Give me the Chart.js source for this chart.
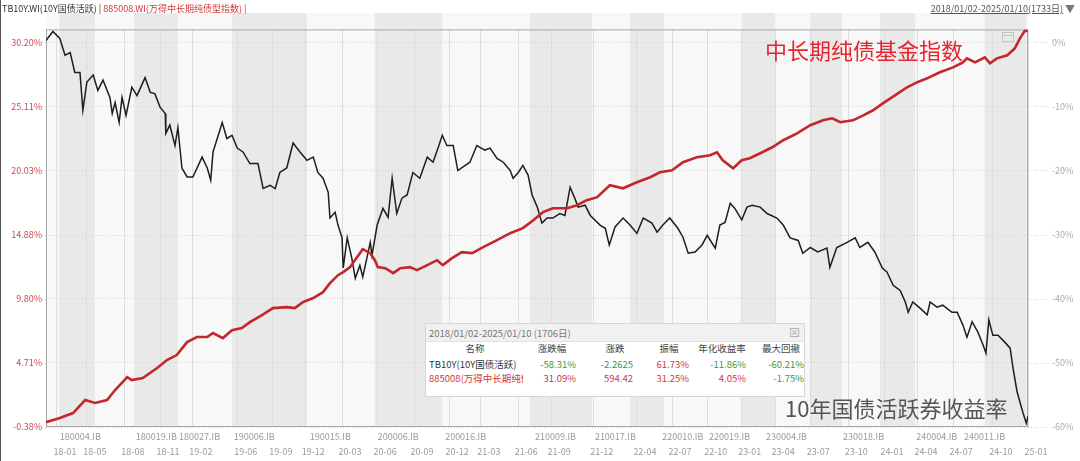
<!DOCTYPE html>
<html><head><meta charset="utf-8">
<script src="https://cdn.jsdelivr.net/npm/chart.js@4.4.1/dist/chart.umd.min.js"></script>
<style>
body{margin:0;background:#fff;}
#wrap{position:relative;width:1080px;height:461px;overflow:hidden;font-family:"Noto Sans CJK SC","Noto Sans",sans-serif;}
#c{position:absolute;left:0;top:0;}
.abs{position:absolute;white-space:nowrap;}
.hdr{font-size:9px;line-height:12px;top:3px;}
#tbl{position:absolute;left:425px;top:323px;width:380px;height:74px;background:#fff;border:1px solid #d6d6d6;box-sizing:border-box;overflow:hidden;font-size:9.5px;line-height:12px;}
#tbl .ttl{position:absolute;left:0;top:0;width:100%;height:17px;background:#f1f1f1;border-bottom:1px solid #e2e2e2;color:#777;}
.note{font-size:22px;line-height:24px;}
</style></head>
<body><div id="wrap">
<canvas id="c" width="1080" height="461"></canvas>
<div class="abs hdr" style="left:2px;color:#333">TB10Y.WI(10Y国债活跃) | <span style="color:#d03a3a">885008.WI(万得中长期纯债型指数) |</span></div>
<div class="abs hdr" style="right:17px;color:#555;text-decoration:underline">2018/01/02-2025/01/10(1733日)</div>
<div class="abs hdr" style="left:1065px;color:#777;font-size:10px">▼</div>
<div id="tbl"><div class="ttl"></div></div>
<div class="abs note" style="left:765px;top:37px;color:#e5262c">中长期纯债基金指数</div>
<div class="abs note" style="left:785px;top:395px;color:#555">10年国债活跃券收益率</div>
</div>
<script>
// ---- data (x = trading-day index from 2018/01/02) ----
const tbDays = [0,12,24,33,42,50,59,64,71,82,90,99,111,115,120,127,132,139,149,158,172,181,189,198,207,208,215,224,229,236,245,255,271,280,286,290,306,314,323,332,342,354,368,377,389,398,406,418,429,441,453,464,472,481,490,493,502,507,514,516,523,531,537,545,550,557,563,566,575,585,594,601,609,618,627,637,649,662,672,681,688,696,707,715,728,736,748,762,771,783,794,806,811,820,828,837,844,853,861,870,880,892,901,910,918,924,936,945,962,971,978,988,1002,1014,1026,1037,1052,1061,1071,1083,1097,1106,1115,1127,1139,1148,1162,1170,1179,1188,1196,1208,1217,1226,1240,1252,1269,1280,1292,1306,1314,1327,1340,1356,1361,1373,1391,1405,1413,1427,1439,1452,1460,1471,1483,1492,1497,1505,1518,1530,1535,1547,1557,1573,1582,1592,1599,1608,1618,1627,1632,1637,1644,1653,1665,1674,1679,1686,1691,1696,1702,1705];
const tbValues = [0.3,1.7,0.6,-2.0,-1.6,-4.7,-4.7,-10.6,-6.2,-5.1,-7.5,-5.9,-8.6,-11.1,-9.4,-12.5,-8.6,-11.4,-7.0,-8.3,-5.5,-7.8,-8.0,-10.1,-11.1,-14.2,-12.9,-16.1,-13.3,-19.6,-21.0,-21.0,-17.9,-19.6,-21.5,-17.1,-12.5,-15.0,-14.5,-16.5,-17.1,-18.9,-18.9,-22.8,-22.3,-22.8,-20.3,-19.6,-15.7,-17.1,-18.4,-17.9,-20.3,-21.2,-23.4,-27.4,-26.5,-28.5,-30.5,-35.2,-30.5,-33.7,-36.8,-34.8,-36.6,-33.7,-31.2,-33.2,-28.5,-25.9,-27.3,-21.2,-26.7,-24.3,-23.8,-20.3,-21.2,-17.9,-18.7,-16.4,-14.5,-16.1,-16.1,-20.0,-19.2,-18.7,-16.1,-16.8,-16.5,-18.1,-18.7,-20.0,-21.2,-20.3,-19.2,-20.7,-23.8,-25.7,-28.2,-27.4,-27.4,-26.7,-27.0,-22.6,-24.3,-25.7,-25.4,-27.0,-28.5,-29.0,-31.6,-28.8,-27.4,-28.5,-29.8,-27.4,-28.2,-29.6,-28.5,-27.4,-29.0,-30.4,-32.9,-32.7,-31.6,-30.1,-32.1,-28.5,-28.1,-25.1,-25.9,-27.7,-25.7,-25.4,-25.7,-26.7,-27.4,-28.5,-30.5,-30.9,-32.9,-32.0,-32.7,-32.1,-35.1,-32.0,-31.2,-30.5,-32.0,-31.2,-32.7,-35.2,-35.8,-37.9,-38.7,-40.5,-42.1,-40.5,-41.5,-42.5,-40.5,-41.3,-41.0,-42.1,-42.1,-44.1,-46.0,-43.6,-45.2,-47.2,-48.5,-43.3,-45.7,-45.7,-46.8,-47.7,-50.8,-54.5,-56.1,-57.7,-59.4,-58.3];
const fundDays = [0,24,47,68,85,106,120,141,149,168,193,210,227,245,262,280,290,307,323,340,354,375,394,418,432,446,464,481,493,507,516,528,540,550,563,571,576,589,603,615,632,644,662,679,689,705,722,740,759,783,806,828,846,863,880,905,922,939,957,979,1002,1026,1049,1066,1087,1106,1130,1153,1165,1175,1193,1208,1222,1240,1261,1280,1304,1327,1349,1365,1379,1401,1419,1436,1453,1474,1495,1512,1530,1552,1575,1592,1599,1613,1630,1639,1651,1669,1682,1691,1700,1705];
const fundValues = [0,0.33,0.73,1.76,1.53,1.76,2.56,3.59,3.35,3.51,4.31,4.94,5.34,6.37,6.77,6.77,7.09,6.69,7.32,7.48,7.96,8.52,9.07,9.15,9.07,9.55,9.87,10.34,11.06,11.69,11.93,12.33,13.12,13.76,13.44,12.88,12.33,12.25,11.85,12.25,12.33,12.09,12.49,12.88,12.49,13.04,13.52,13.44,13.92,14.47,15.03,15.43,16.06,16.70,17.01,17.01,17.25,17.65,17.89,18.84,18.60,19.08,19.48,19.87,20.03,20.67,21.07,21.22,21.46,20.83,20.19,20.83,20.99,21.38,21.86,22.42,22.97,23.61,24.00,24.16,23.85,24.00,24.40,24.80,25.35,25.99,26.63,27.02,27.34,27.82,28.21,28.61,28.93,28.61,29.01,28.53,28.93,29.17,29.72,30.52,31.15,31.09];
const leftTickValues = [-0.38,4.71,9.80,14.88,20.03,25.11,30.20];
const leftTickLabels = ['-0.38%','4.71%','9.80%','14.88%','20.03%','25.11%','30.20%'];
const rightTickValues = [-60,-50,-40,-30,-20,-10,0];
const rightTickLabels = ['-60%','-50%','-40%','-30%','-20%','-10%','0%'];
const monthLabels = ['18-01','18-05','18-08','18-11','19-02','19-06','19-09','19-12','20-03','20-06','20-09','20-12','21-03','21-06','21-09','21-12','22-04','22-07','22-10','23-01','23-04','23-07','23-10','24-01','24-04','24-07','24-10','25-01'];
const monthDays = [19,71,137,198,255,333,394,450,514,575,639,700,755,820,877,951,1026,1087,1149,1208,1266,1327,1393,1455,1514,1575,1644,1705];
const bondLabels = ['180004.IB','180019.IB','180027.IB','190006.IB','190015.IB','200006.IB','200016.IB','210009.IB','210017.IB','220010.IB','220019.IB','230004.IB','230018.IB','240004.IB','240011.IB'];
const bondDays = [24,156,231,326,458,576,693,849,953,1070,1151,1250,1384,1511,1594];
const bandStartDays = [23,153,323,571,840,1014,1208,1327,1448,1630];
const bandEndDays = [85,229,453,688,948,1073,1266,1382,1509,1702];
const tableTitle = '2018/01/02-2025/01/10 (1706日)';
const tableHeaders = ['名称','涨跌幅','涨跌','振幅','年化收益率','最大回撤'];
const tableNames = ['TB10Y(10Y国债活跃)','885008(万得中长期纯债型指数)'];
const tableValues = [['-58.31%','-2.2625','61.73%','-11.86%','-60.21%'],['31.09%','594.42','31.25%','4.05%','-1.75%']];

// ---- table overlay ----
(function(){
  const t = document.getElementById('tbl');
  t.querySelector('.ttl').innerHTML = '<span style="position:absolute;left:3px;top:3px">'+tableTitle+'</span><span style="position:absolute;right:4px;top:2px;color:#aaa;font-size:11px">⊠</span>';
  const hdrCenters = [49,126,189,243,296,355];
  const colRights = [150,207,263,320,378];
  const rowTops = [18,34,48];
  const green = '#3a9a3a', red = '#d2353c';
  tableHeaders.forEach((h,i)=>{
    const s=document.createElement('span'); s.className='abs'; s.textContent=h;
    s.style.cssText+='top:'+rowTops[0]+'px;left:'+(hdrCenters[i]-40)+'px;width:80px;text-align:center;color:#444';
    t.appendChild(s);
  });
  tableNames.forEach((n,r)=>{
    const s=document.createElement('span'); s.className='abs'; s.textContent=n;
    s.style.cssText+='top:'+rowTops[r+1]+'px;left:3px;width:94px;overflow:hidden;color:'+(r===0?'#333':red);
    t.appendChild(s);
    tableValues[r].forEach((v,c)=>{
      const e=document.createElement('span'); e.className='abs'; e.textContent=v;
      const neg = v.charAt(0)==='-';
      e.style.cssText+='top:'+rowTops[r+1]+'px;left:'+(colRights[c]-70)+'px;width:70px;text-align:right;color:'+(neg?green:red);
      t.appendChild(e);
    });
  });
})();

// ---- chart ----
Chart.defaults.font.family = '"Noto Sans CJK SC","Noto Sans",sans-serif';
const decor = {
  id:'decor',
  beforeDraw(chart){
    const {ctx, chartArea:a, scales:{x}} = chart;
    ctx.save();
    ctx.fillStyle = '#f8f8f8';
    ctx.fillRect(a.left, 13, a.right-a.left, a.bottom-13);
    ctx.fillStyle = '#e9e9e9';
    bandStartDays.forEach((s,i)=>{
      const x0 = x.getPixelForValue(s), x1 = x.getPixelForValue(bandEndDays[i]);
      ctx.fillRect(x0, 13, x1-x0, a.bottom-13);
    });
    ctx.restore();
  },
  beforeDatasetsDraw(chart){
    const {ctx, chartArea:a, scales:{yL}} = chart;
    ctx.save();
    ctx.strokeStyle = '#d0d0d0'; ctx.setLineDash([1,2]); ctx.lineWidth = 1;
    leftTickValues.forEach(v=>{
      const y = Math.round(yL.getPixelForValue(v))+0.5;
      ctx.beginPath(); ctx.moveTo(a.left-4,y); ctx.lineTo(a.left,y); ctx.stroke();
      ctx.beginPath(); ctx.moveTo(a.right,y); ctx.lineTo(a.right+20,y); ctx.stroke();
    });
    ctx.setLineDash([]);
    ctx.strokeStyle = '#a8a8a8';
    ctx.strokeRect(a.left+0.5, a.top+0.5, a.right-a.left-1, a.bottom-a.top-1);
    ctx.strokeStyle = '#c4c4c4';
    ctx.strokeRect(1002.5, 32.5, 11, 9);
    ctx.beginPath(); ctx.moveTo(1002.5,35.5); ctx.lineTo(1013.5,35.5); ctx.stroke();
    ctx.restore();
  },
  afterDraw(chart){
    const ctx = chart.ctx;
    ctx.save(); ctx.fillStyle = '#555'; ctx.fillRect(0,0,1,461); ctx.restore();
  }
};

new Chart(document.getElementById('c'), {
  type:'line',
  data:{ datasets:[
    { label:'885008.WI', yAxisID:'yL', xAxisID:'x', data: fundDays.map((d,i)=>({x:d,y:fundValues[i]})),
      borderColor:'#c3262d', borderWidth:2.6, pointRadius:0, tension:0, order:0 },
    { label:'TB10Y.WI', yAxisID:'yR', xAxisID:'x', data: tbDays.map((d,i)=>({x:d,y:tbValues[i]})),
      borderColor:'#1e1e1e', borderWidth:1.5, pointRadius:0, tension:0, order:1 }
  ]},
  options:{
    responsive:false, devicePixelRatio:1, animation:false,
    layout:{ padding:{ top:29, left:0, right:0, bottom:0 } },
    plugins:{ legend:{display:false}, tooltip:{enabled:false} },
    scales:{
      x:{ type:'linear', position:'bottom', min:0, max:1705, bounds:'data', weight:1,
        afterBuildTicks(s){ s.ticks = monthDays.map(v=>({value:v})); },
        afterFit(s){ s.height = 19; },
        ticks:{ autoSkip:false, maxRotation:0, minRotation:0, labelOffset:8, padding:4, color:'#9a9a9a', font:{size:9},
          callback:(v,i)=>monthLabels[i] },
        grid:{ color:'#dddddd', drawTicks:false }, border:{ display:false } },
      xb:{ type:'linear', position:'bottom', min:0, max:1705, bounds:'data', weight:0,
        afterBuildTicks(s){ s.ticks = bondDays.map(v=>({value:v})); },
        afterFit(s){ s.height = 15; },
        ticks:{ autoSkip:false, maxRotation:0, minRotation:0, align:'start', padding:4, color:'#9a9a9a', font:{size:9},
          callback:(v,i)=>bondLabels[i] },
        grid:{ display:false, drawTicks:false }, border:{ display:false } },
      yL:{ type:'linear', position:'left', min:-0.38, max:31.23, bounds:'data',
        afterBuildTicks(s){ s.ticks = leftTickValues.map(v=>({value:v})); },
        afterFit(s){ s.width = 46; },
        ticks:{ color:'#cc4b50', font:{size:9}, padding:4, callback:(v,i)=>leftTickLabels[i] },
        grid:{ color:'#d2d2d2', drawTicks:false }, border:{ display:false, dash:[1,2] } },
      yR:{ type:'linear', position:'right', min:-60, max:2.02, bounds:'data',
        afterBuildTicks(s){ s.ticks = rightTickValues.map(v=>({value:v})); },
        afterFit(s){ s.width = 52; },
        ticks:{ color:'#aaaaaa', font:{size:9}, padding:24, callback:(v,i)=>rightTickLabels[i] },
        grid:{ display:false, drawTicks:false }, border:{ display:false } }
    }
  },
  plugins:[decor]
});
</script>
</body></html>
